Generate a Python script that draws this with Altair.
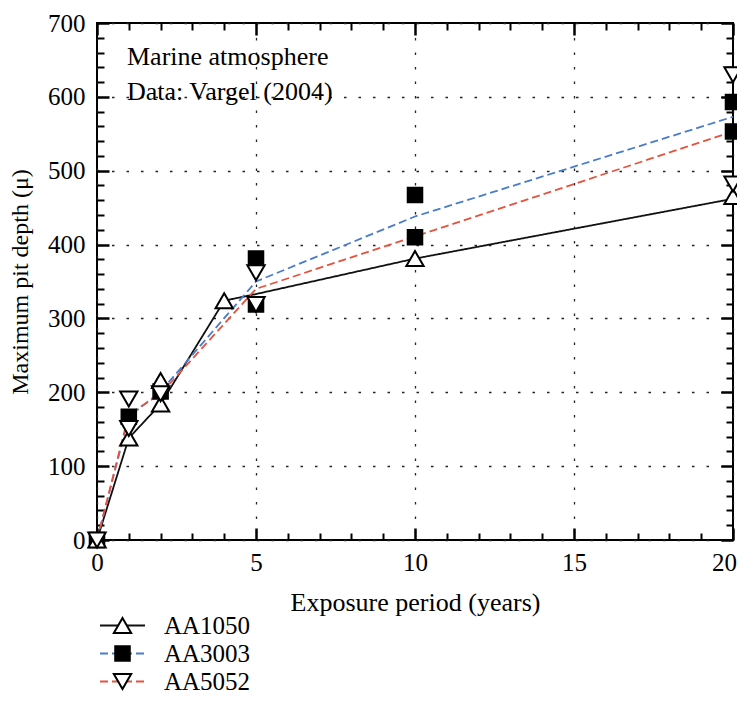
import altair as alt
import pandas as pd

FONT = "Liberation Serif"
alloys = ["AA1050", "AA3003", "AA5052"]
line_colors = ["#111111", "#4a7cc9", "#e4533d"]

# measured maximum pit depths (points)
p1050_x = [0, 1, 2, 2, 4, 10, 20]
p1050_y = [0, 138, 184, 216, 324, 381, 465]
p3003_x = [0, 1, 2, 5, 5, 10, 10, 20, 20]
p3003_y = [0, 167, 201, 381, 319, 467, 410, 593, 553]
p5052_x = [0, 1, 1, 2, 5, 5, 20, 20]
p5052_y = [0, 191, 151, 198, 362, 319, 630, 482]

# connecting (trend) lines
l1050_x = [0, 1, 2, 4, 5, 10, 20]
l1050_y = [0, 138, 184, 324, 333, 381, 462]
l3003_x = [0, 1, 2, 5, 10, 20]
l3003_y = [0, 167, 201, 350, 438, 573]
l5052_x = [0, 1, 2, 5, 10, 20]
l5052_y = [0, 170, 198, 340, 411, 553]

x_major = [0, 5, 10, 15, 20]
x_minor = [v for v in range(0, 21) if v % 5]
y_major = list(range(0, 701, 100))
y_minor = [v for v in range(0, 701, 20) if v % 100]

annot1 = "Marine atmosphere"
annot2 = "Data: Vargel (2004)"

pts = pd.concat([
    pd.DataFrame({"year": p3003_x, "depth": p3003_y, "series": "AA3003"}),
    pd.DataFrame({"year": p1050_x, "depth": p1050_y, "series": "AA1050"}),
    pd.DataFrame({"year": p5052_x, "depth": p5052_y, "series": "AA5052"}),
], ignore_index=True)
lns = pd.concat([
    pd.DataFrame({"year": l1050_x, "depth": l1050_y, "alloy": "AA1050"}),
    pd.DataFrame({"year": l3003_x, "depth": l3003_y, "alloy": "AA3003"}),
    pd.DataFrame({"year": l5052_x, "depth": l5052_y, "alloy": "AA5052"}),
], ignore_index=True)

W, H = 636, 517
xs = alt.Scale(domain=[0, 20], nice=False, zero=False)
ys = alt.Scale(domain=[0, 700], nice=False, zero=False)


def tick_axis(orient, values, size, width):
    return alt.Axis(orient=orient, values=values, offset=-size, tickSize=size,
                    tickWidth=width, tickColor="black", domain=False, labels=False,
                    grid=False, title=None)


grid_kw = dict(grid=True, gridColor="#222222", gridDash=[2.5, 12], gridWidth=1.3)
lab_kw = dict(labelFont=FONT, labelFontSize=25, labelColor="black", labelFlush=False,
              labelOverlap=False, titleFont=FONT, titleFontWeight="normal",
              titleColor="black", domain=False, tickColor="black", tickWidth=2.5)

LEG_X, LEG_Y = 13, 590
leg_common = dict(orient="none", legendX=LEG_X, legendY=LEG_Y, title=None,
                  symbolSize=300, labelFont=FONT, labelFontSize=25, labelColor="black",
                  labelOffset=29, rowPadding=2, padding=0)
line_leg = alt.Legend(symbolType="M-2.6,0H2.6", symbolStrokeWidth=1.8, zindex=0,
                      **leg_common)
mark_leg = alt.Legend(symbolStrokeWidth=2, labelOpacity=0, zindex=1, **leg_common)

lines = alt.Chart(lns).mark_line(strokeWidth=1.8).encode(
    x=alt.X("year:Q", scale=xs, axis=alt.Axis(
        orient="bottom", values=x_major, offset=-12, tickSize=12, labelPadding=10,
        labelOffset={"condition": {"test": "datum.value == 20", "value": -9}, "value": 0},
        title="Exposure period (years)", titleFontSize=26, titlePadding=14,
        **grid_kw, **lab_kw)),
    y=alt.Y("depth:Q", scale=ys, axis=alt.Axis(
        orient="left", values=y_major, offset=-12, tickSize=12, labelPadding=12,
        title="Maximum pit depth (μ)", titleFontSize=24, titlePadding=15,
        **grid_kw, **lab_kw)),
    color=alt.Color("alloy:N", scale=alt.Scale(range=line_colors), legend=line_leg),
    strokeDash=alt.StrokeDash("alloy:N", scale=alt.Scale(range=[[1, 0], [8, 4], [8, 4]]),
                              legend=line_leg),
)

points = alt.Chart(pts).mark_point(opacity=1, fillOpacity=1, strokeWidth=2,
                                   size=300).encode(
    x=alt.X("year:Q", scale=xs, axis=tick_axis("bottom", x_minor, 7, 2)),
    y=alt.Y("depth:Q", scale=ys, axis=tick_axis("left", y_minor, 7, 2)),
    shape=alt.Shape("series:N", scale=alt.Scale(
        range=["triangle-up", "M-0.84,-0.84H0.84V0.84H-0.84Z", "triangle-down"]),
        legend=mark_leg),
    fill=alt.Fill("series:N", scale=alt.Scale(range=["white", "black", "white"]),
                  legend=mark_leg),
    stroke=alt.Stroke("series:N", scale=alt.Scale(range=["black", "black", "black"]),
                      legend=mark_leg),
)

top_major = alt.Chart(pts).mark_point(opacity=0).encode(
    x=alt.X("year:Q", scale=xs, axis=tick_axis("top", x_major, 12, 2.5)),
    y=alt.Y("depth:Q", scale=ys, axis=tick_axis("right", y_major, 12, 2.5)),
)
top_minor = alt.Chart(pts).mark_point(opacity=0).encode(
    x=alt.X("year:Q", scale=xs, axis=tick_axis("top", x_minor, 7, 2)),
    y=alt.Y("depth:Q", scale=ys, axis=tick_axis("right", y_minor, 7, 2)),
)

t1 = alt.Chart(pd.DataFrame({"label": [annot1]})).mark_text(
    font=FONT, fontSize=26, align="left", baseline="alphabetic", color="black"
).encode(text="label:N", x=alt.value(30), y=alt.value(42))
t2 = alt.Chart(pd.DataFrame({"label": [annot2]})).mark_text(
    font=FONT, fontSize=26, align="left", baseline="alphabetic", color="black"
).encode(text="label:N", x=alt.value(30), y=alt.value(77))

chart = alt.layer(lines, points, top_major, top_minor, t1, t2).resolve_axis(
    x="independent", y="independent"
).properties(
    width=W, height=H,
    autosize=alt.AutoSizeParams(type="none"),
    padding={"left": 89, "top": 15, "right": 4, "bottom": 154},
).configure_view(stroke="black", strokeWidth=2)

chart.save("out.html", embed_options={"renderer": "svg", "actions": False})
